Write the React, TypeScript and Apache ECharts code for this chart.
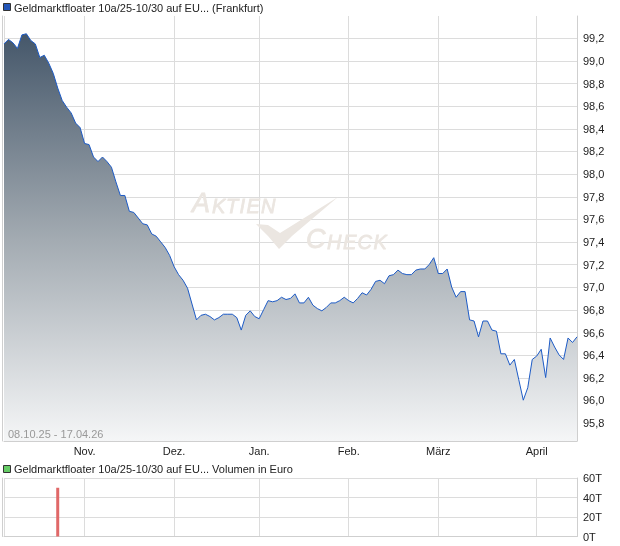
import React, { useEffect, useRef } from "react";
import * as echarts from "echarts";

const price = [
  99.15, 99.19, 99.16, 99.11, 99.23, 99.24, 99.18, 99.15, 99.03, 99.05,
  98.98, 98.89, 98.76, 98.65, 98.59, 98.54, 98.45, 98.41, 98.27, 98.26,
  98.15, 98.11, 98.15, 98.11, 98.06, 97.93, 97.81, 97.81, 97.67, 97.66,
  97.61, 97.56, 97.55, 97.47, 97.45, 97.40, 97.35, 97.28, 97.18, 97.11,
  97.06, 96.99, 96.85, 96.71, 96.75, 96.76, 96.74, 96.71, 96.73, 96.76,
  96.76, 96.76, 96.73, 96.62, 96.75, 96.79, 96.74, 96.72, 96.80, 96.88,
  96.87, 96.88, 96.91, 96.89, 96.90, 96.94, 96.86, 96.86, 96.91, 96.84,
  96.81, 96.79, 96.82, 96.86, 96.86, 96.88, 96.91, 96.88, 96.86, 96.90,
  96.95, 96.93, 96.98, 97.05, 97.06, 97.03, 97.10, 97.11, 97.15, 97.12,
  97.11, 97.11, 97.15, 97.16, 97.16, 97.20, 97.26, 97.12, 97.12, 97.16,
  97.00, 96.91, 96.96, 96.96, 96.71, 96.70, 96.56, 96.70, 96.70, 96.62,
  96.61, 96.41, 96.41, 96.31, 96.36, 96.18, 96.00, 96.11, 96.36, 96.39,
  96.45, 96.20, 96.55, 96.47, 96.40, 96.36, 96.55, 96.51, 96.56,
];

const monthLabels = ["Nov.", "Dez.", "Jan.", "Feb.", "März", "April"];
const monthStartIndex = [18, 38, 57, 77, 97, 119];

// volume in thousand euro (T)
const volumeIndex = [12];
const volumeK = [50];

const titleText = "Geldmarktfloater 10a/25-10/30 auf EU... (Frankfurt)";
const volumeTitleText = "Geldmarktfloater 10a/25-10/30 auf EU... Volumen in Euro";
const rangeText = "08.10.25 - 17.04.26";

const categories = price.map((_, i) => String(i));

const FONT = '"Liberation Sans", Arial, sans-serif';
const GRID_COLOR = "#dcdcdc";
const BORDER_COLOR = "#cfcfcf";
const WM = "#ebe6e1";

// watermark letters: [char, x, bottom y, size]
const wmLetters: [string, number, number, number][] = [
  ["A", 192, 216, 27],
  ["K", 212, 215.5, 20],
  ["T", 226, 215.5, 20],
  ["I", 239.5, 215.5, 20],
  ["E", 246.5, 215.5, 20],
  ["N", 261, 215.5, 20],
  ["C", 306, 252, 27],
  ["H", 327, 251.5, 20],
  ["E", 343, 251.5, 20],
  ["C", 357.5, 251.5, 20],
  ["K", 373.5, 251.5, 20],
];

export default function App() {
  const ref = useRef<HTMLDivElement>(null);

  useEffect(() => {
    if (!ref.current) return;
    const chart = echarts.init(ref.current, null, { renderer: "svg" });

    const monthSplit = (i: number) => i === 0 || monthStartIndex.indexOf(i) >= 0;

    const volumeData = volumeIndex.map((idx, k) => [idx, volumeK[k]]);

    const wmGraphics = wmLetters.map(([ch, x, y, size]) => ({
      type: "text",
      x,
      y,
      z: 1,
      style: {
        text: ch,
        font: `italic ${size}px ${FONT}`,
        fill: WM,
        stroke: WM,
        lineWidth: 0.8,
        verticalAlign: "bottom",
      },
    }));

    const option: any = {
      animation: false,
      textStyle: { fontFamily: FONT },
      grid: [
        { left: 4, top: 16, width: 573, height: 425 },
        { left: 4, top: 15.7, width: 573, height: 430 },
        { left: 4, top: 478, width: 573, height: 58.5 },
      ],
      xAxis: [
        {
          type: "category",
          gridIndex: 0,
          data: categories,
          boundaryGap: false,
          axisLine: { show: true, lineStyle: { color: BORDER_COLOR, width: 1 } },
          axisTick: { show: false },
          axisLabel: {
            interval: (i: number) => monthStartIndex.indexOf(i) >= 0,
            formatter: (v: string) => {
              const k = monthStartIndex.indexOf(Number(v));
              return k >= 0 ? monthLabels[k] : "";
            },
            color: "#222",
            fontSize: 11,
            fontFamily: FONT,
            margin: 4,
          },
          splitLine: {
            show: true,
            interval: (i: number) => monthSplit(i),
            lineStyle: { color: GRID_COLOR, width: 1 },
          },
        },
        {
          type: "category",
          gridIndex: 1,
          data: categories,
          boundaryGap: false,
          show: false,
        },
        {
          type: "category",
          gridIndex: 2,
          data: categories,
          boundaryGap: false,
          axisLine: { show: true, lineStyle: { color: BORDER_COLOR, width: 1 } },
          axisTick: { show: false },
          axisLabel: { show: false },
          splitLine: {
            show: true,
            interval: (i: number) => monthSplit(i),
            lineStyle: { color: GRID_COLOR, width: 1 },
          },
        },
      ],
      yAxis: [
        {
          type: "value",
          gridIndex: 0,
          position: "left",
          offset: 2,
          min: 95.639,
          max: 99.397,
          axisLine: { show: true, lineStyle: { color: BORDER_COLOR, width: 1 } },
          axisTick: { show: false },
          axisLabel: { show: false },
          splitLine: { show: false },
        },
        {
          type: "value",
          gridIndex: 1,
          position: "right",
          min: 95.6,
          max: 99.4,
          interval: 0.2,
          axisLine: { show: false },
          axisTick: { show: false },
          axisLabel: {
            showMinLabel: false,
            showMaxLabel: false,
            formatter: (v: number) => v.toFixed(1).replace(".", ","),
            color: "#222",
            fontSize: 11,
            fontFamily: FONT,
            margin: 6,
          },
          splitLine: {
            show: true,
            showMinLine: false,
            showMaxLine: false,
            lineStyle: { color: GRID_COLOR, width: 1 },
          },
        },
        {
          type: "value",
          gridIndex: 0,
          position: "right",
          min: 95.639,
          max: 99.397,
          axisLine: { show: true, lineStyle: { color: BORDER_COLOR, width: 1 } },
          axisTick: { show: false },
          axisLabel: { show: false },
          splitLine: { show: false },
        },
        {
          type: "value",
          gridIndex: 2,
          position: "right",
          min: 0,
          max: 60,
          interval: 20,
          axisLine: { show: true, lineStyle: { color: BORDER_COLOR, width: 1 } },
          axisTick: { show: false },
          axisLabel: {
            formatter: (v: number) => `${v}T`,
            color: "#222",
            fontSize: 11,
            fontFamily: FONT,
            margin: 6,
          },
          splitLine: { show: true, lineStyle: { color: GRID_COLOR, width: 1 } },
        },
        {
          type: "value",
          gridIndex: 2,
          position: "left",
          offset: 2,
          min: 0,
          max: 60,
          axisLine: { show: true, lineStyle: { color: BORDER_COLOR, width: 1 } },
          axisTick: { show: false },
          axisLabel: { show: false },
          splitLine: { show: false },
        },
      ],
      series: [
        {
          type: "line",
          xAxisIndex: 0,
          yAxisIndex: 0,
          data: price,
          symbol: "none",
          lineStyle: { color: "#1d5bc6", width: 1 },
          areaStyle: {
            origin: "start",
            opacity: 1,
            color: new echarts.graphic.LinearGradient(0, 0, 0, 1, [
              { offset: 0, color: "#45576a" },
              { offset: 0.5, color: "#a2aab1" },
              { offset: 1, color: "#f5f6f7" },
            ]),
          },
          z: 3,
        },
        {
          type: "line",
          xAxisIndex: 1,
          yAxisIndex: 1,
          data: [],
          symbol: "none",
        },
        {
          type: "bar",
          xAxisIndex: 2,
          yAxisIndex: 3,
          data: volumeData,
          barWidth: 3,
          itemStyle: { color: "#e06868" },
        },
      ],
      graphic: [
        {
          type: "rect",
          shape: { x: 3.5, y: 3.5, width: 7, height: 7 },
          style: { fill: "#2456b8", stroke: "#333", lineWidth: 1 },
        },
        {
          type: "text",
          x: 14,
          y: 7.5,
          style: {
            text: titleText,
            font: `11px ${FONT}`,
            fill: "#222",
            verticalAlign: "middle",
          },
        },
        {
          type: "rect",
          shape: { x: 3.5, y: 465.5, width: 7, height: 7 },
          style: { fill: "#66cc66", stroke: "#333", lineWidth: 1 },
        },
        {
          type: "text",
          x: 14,
          y: 469,
          style: {
            text: volumeTitleText,
            font: `11px ${FONT}`,
            fill: "#222",
            verticalAlign: "middle",
          },
        },
        {
          type: "text",
          x: 8,
          y: 434,
          z: 10,
          style: {
            text: rangeText,
            font: `11px ${FONT}`,
            fill: "#999",
            verticalAlign: "middle",
          },
        },
        ...wmGraphics,
        {
          type: "polygon",
          z: 1,
          shape: {
            points: [
              [256, 224],
              [268, 225],
              [280, 233],
              [338, 197],
              [292, 236],
              [279, 249],
              [268, 236],
            ],
          },
          style: { fill: WM },
        },
      ],
    };

    chart.setOption(option);
    return () => chart.dispose();
  }, []);

  return (
    <div
      ref={ref}
      style={{ position: "fixed", left: 0, top: 0, width: 620, height: 546 }}
    />
  );
}
